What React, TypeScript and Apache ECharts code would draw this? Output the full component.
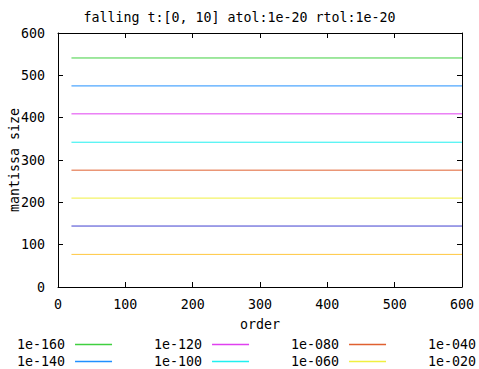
import React, { useEffect, useRef } from "react";
import * as echarts from "echarts";

const titleText = "falling t:[0, 10] atol:1e-20 rtol:1e-20";
const tolerances = ["1e-160", "1e-140", "1e-120", "1e-100", "1e-080", "1e-060", "1e-040", "1e-020"];
const mantissaSizes = [541, 475, 409, 342, 276, 210, 144, 77];
const orderRange = [20, 600];
const colors = ["#40d040", "#2090ff", "#e040f0", "#20f0f0", "#e06030", "#f0f040", "#4040d0", "#ffc840"];
const axisTicks = { min: 0, max: 600, interval: 100 };

const FONT = "'DejaVu Sans Mono', monospace";

export default function App() {
  const ref = useRef<HTMLDivElement>(null);
  useEffect(() => {
    if (!ref.current) return;
    const chart = echarts.init(ref.current, null, { renderer: "svg" });
    const series = tolerances.map((name, i) => ({
      name,
      type: "line",
      symbol: "none",
      data: orderRange.map((o) => [o, mantissaSizes[i]]),
      lineStyle: { width: 1, color: colors[i] },
      itemStyle: { color: colors[i] },
    }));
    const txt = { fontFamily: FONT, fontSize: 13.3, color: "#000" };
    const legendCols = [0, 1, 2, 3].map((c) => ({
      orient: "vertical",
      left: 17 + c * 137,
      top: 338,
      align: "right",
      itemWidth: 37,
      itemHeight: 10,
      itemGap: 4,
      padding: 0,
      itemStyle: { opacity: 0 },
      lineStyle: { width: 1.5 },
      data: tolerances.slice(c * 2, c * 2 + 2),
      textStyle: { ...txt, padding: [0, 5, 0, 0] },
    }));
    const axisCommon = {
      type: "value",
      min: axisTicks.min,
      max: axisTicks.max,
      interval: axisTicks.interval,
      splitLine: { show: false },
      axisLine: { show: true, onZero: false, lineStyle: { color: "#000", width: 1 } },
      axisTick: { show: true, inside: true, length: 5, lineStyle: { color: "#000" } },
    };
    chart.setOption({
      animation: false,
      backgroundColor: "#fff",
      title: {
        text: titleText,
        left: "center",
        top: 6,
        textStyle: { ...txt, fontWeight: "normal" },
      },
      legend: legendCols,
      grid: { left: 58, right: 17, top: 33, bottom: 82, show: false, containLabel: false, outerBoundsMode: "none" },
      graphic: [
        {
          type: "text",
          x: 14,
          y: 160,
          rotation: Math.PI / 2,
          style: {
            text: "mantissa size",
            fontFamily: FONT,
            fontSize: 13.3,
            fill: "#000",
            align: "center",
            verticalAlign: "middle",
          },
        },
      ],
      xAxis: [
        {
          ...axisCommon,
          position: "bottom",
          name: "order",
          nameLocation: "middle",
          nameGap: 31,
          nameMoveOverlap: false,
          nameTextStyle: txt,
          axisLabel: { ...txt, margin: 11 },
        },
        {
          ...axisCommon,
          position: "top",
          axisLabel: { show: false },
        },
      ],
      yAxis: [
        {
          ...axisCommon,
          position: "left",
          axisLabel: { ...txt, margin: 13 },
        },
        {
          ...axisCommon,
          position: "right",
          axisLabel: { show: false },
        },
      ],
      series,
    });
    return () => chart.dispose();
  }, []);
  return <div ref={ref} style={{ width: 479, height: 369, position: "absolute", left: 0, top: 0 }} />;
}
